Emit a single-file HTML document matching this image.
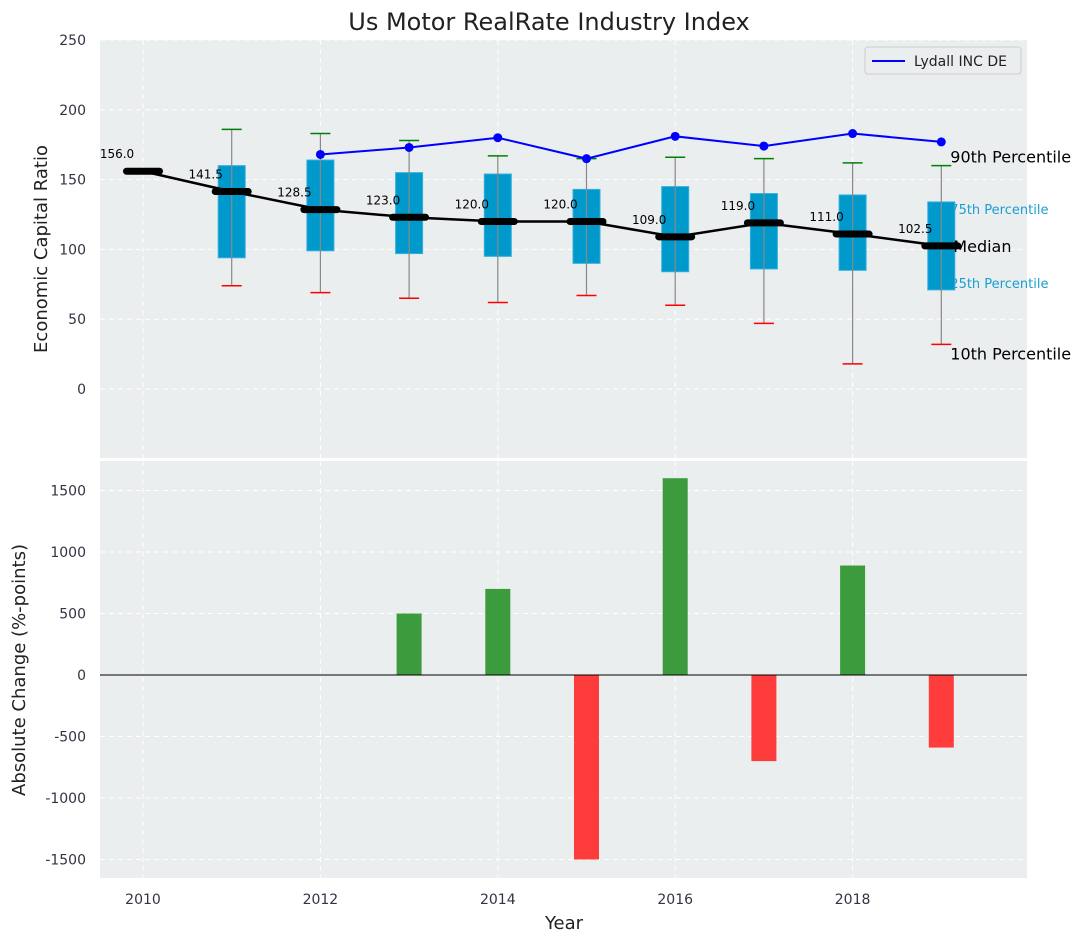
<!DOCTYPE html>
<html><head><meta charset="utf-8"><style>
body{margin:0;background:#fff;font-family:"DejaVu Sans","Liberation Sans",sans-serif}
</style></head><body>
<svg id="chart" width="1085" height="942" xmlns="http://www.w3.org/2000/svg" font-family="DejaVu Sans, Liberation Sans, sans-serif">
<rect x="100" y="40" width="927" height="418" fill="#eaeeef"/>
<rect x="100" y="461" width="927" height="417" fill="#eaeeef"/>
<g id="grid"></g>
<g id="top"></g>
<g id="bottom"></g>
<text x="549" y="30" font-size="24" text-anchor="middle" fill="#222">Us Motor RealRate Industry Index</text>
<text transform="translate(47,249) rotate(-90)" font-size="18" text-anchor="middle" fill="#222">Economic Capital Ratio</text>
<text transform="translate(25,670) rotate(-90)" font-size="18" text-anchor="middle" fill="#222">Absolute Change (%-points)</text>
<text x="564" y="929" font-size="18" text-anchor="middle" fill="#222">Year</text>
<g>
<rect x="865" y="47" width="156" height="27" fill="#eaeeef" stroke="#ccc" rx="3"/>
<line x1="872" y1="61" x2="905" y2="61" stroke="#0000ff" stroke-width="2"/>
<text x="914" y="66" font-size="14" fill="#222">Lydall INC DE</text>
</g>
</svg>
<script>
const years=[2010,2011,2012,2013,2014,2015,2016,2017,2018,2019];
const medians=[156,141.5,128.5,123,120,120,109,119,111,102.5];
const q1=[null,94,99,97,95,90,84,86,85,71];
const q3=[null,160,164,155,154,143,145,140,139,134];
const p90=[null,186,183,178,167,165,166,165,162,160];
const p10=[null,74,69,65,62,67,60,47,18,32];
const lydYears=[2012,2013,2014,2015,2016,2017,2018,2019];
const lydVals=[168,173,180,165,181,174,183,177];
const barYears=[2013,2014,2015,2016,2017,2018,2019];
const barVals=[500,700,-1500,1600,-700,890,-590];
const yTicksTop=[0,50,100,150,200,250];
const yTicksBot=[-1500,-1000,-500,0,500,1000,1500];
const xTicks=[2010,2012,2014,2016,2018];

const NS="http://www.w3.org/2000/svg";
const X=v=>143+(v-2010)*88.7;
const YT=v=>389-v*1.396;
const YB=v=>675-v*0.123;
function mk(p,tag,a,txt){const e=document.createElementNS(NS,tag);for(const k in a)e.setAttribute(k,a[k]);if(txt!=null)e.textContent=txt;p.appendChild(e);return e;}
const G=document.getElementById('grid'),T=document.getElementById('top'),B=document.getElementById('bottom'),S=document.getElementById('chart');

xTicks.forEach(t=>{
 let g=mk(G,'line',{x1:X(t),x2:X(t),y1:40,y2:458,stroke:'#fff','stroke-dasharray':'5,4','stroke-width':1});
 
 g=mk(G,'line',{x1:X(t),x2:X(t),y1:461,y2:878,stroke:'#fff','stroke-dasharray':'5,4','stroke-width':1});
 
 const l=mk(S,'text',{x:X(t),y:904,'font-size':14,'text-anchor':'middle',fill:'#334'},t);
 
});
yTicksTop.forEach(t=>{
 const g=mk(G,'line',{x1:100,x2:1027,y1:YT(t),y2:YT(t),stroke:'#fff','stroke-dasharray':'5,4'});
 
 const l=mk(S,'text',{x:86,y:YT(t)+5,'font-size':14,'text-anchor':'end',fill:'#334'},t);
 
});
yTicksBot.forEach(t=>{
 const g=mk(G,'line',{x1:100,x2:1027,y1:YB(t),y2:YB(t),stroke:'#fff','stroke-dasharray':'5,4'});
 
 const l=mk(S,'text',{x:86,y:YB(t)+5,'font-size':14,'text-anchor':'end',fill:'#334'},t);
 
});

const last=years.length-1,lx=X(years[last])+9;
[[q3[last],'75th Percentile',13,'#1a9fd0',12],[q1[last],'25th Percentile',13,'#1a9fd0',-2]].forEach(d=>{
 const t=mk(T,'text',{x:lx,y:YT(d[0])+d[4],'font-size':d[2],fill:d[3]},d[1]);
 
});

years.forEach((y,i)=>{
 if(q1[i]==null)return;
 const b=mk(T,'rect',{x:X(y)-13.5,y:YT(q3[i]),width:27,height:YT(q1[i])-YT(q3[i]),fill:'#0099cc',stroke:'#33b0dd','stroke-width':1});
 
 const w=mk(T,'line',{x1:X(y),x2:X(y),y1:YT(p90[i]),y2:YT(p10[i]),stroke:'#888','stroke-width':1.2});
 
 const c1=mk(T,'line',{x1:X(y)-10,x2:X(y)+10,y1:YT(p90[i]),y2:YT(p90[i]),stroke:'#008000','stroke-width':1.5});
 
 const c2=mk(T,'line',{x1:X(y)-10,x2:X(y)+10,y1:YT(p10[i]),y2:YT(p10[i]),stroke:'#ff0000','stroke-width':1.5});
 
});
[[p90[last],'90th Percentile',-3],[medians[last],'Median',6],[p10[last],'10th Percentile',15]].forEach(d=>{
 const t=mk(T,'text',{x:d[1]==='Median'?lx+3:lx,y:YT(d[0])+d[2],'font-size':16,fill:'#000'},d[1]);
 
});
const ml=mk(T,'polyline',{points:years.map((y,i)=>X(y)+','+YT(medians[i])).join(' '),fill:'none',stroke:'#000','stroke-width':2.5});

years.forEach((y,i)=>{
 const m=mk(T,'line',{x1:X(y)-16.5,x2:X(y)+16.5,y1:YT(medians[i]),y2:YT(medians[i]),stroke:'#000','stroke-width':7,'stroke-linecap':'round'});
 
 const t=mk(T,'text',{x:X(y)-26,y:YT(medians[i])-13,'font-size':12,'text-anchor':'middle',fill:'#000'},medians[i].toFixed(1));
 
});
const ll=mk(T,'polyline',{points:lydYears.map((y,i)=>X(y)+','+YT(lydVals[i])).join(' '),fill:'none',stroke:'#0000ff','stroke-width':2});

lydYears.forEach((y,i)=>{
 const c=mk(T,'circle',{cx:X(y),cy:YT(lydVals[i]),r:4.5,fill:'#0000ff'});
 
});

barYears.forEach((y,i)=>{
 const v=barVals[i];
 const r=mk(B,'rect',{x:X(y)-12.5,y:Math.min(YB(v),YB(0)),width:25,height:Math.abs(YB(v)-YB(0)),fill:v>=0?'#3c9b3c':'#ff3c3c'});
 
});
const z=mk(B,'line',{x1:100,x2:1027,y1:YB(0),y2:YB(0),stroke:'#000','stroke-width':1});

</script>
</body></html>
